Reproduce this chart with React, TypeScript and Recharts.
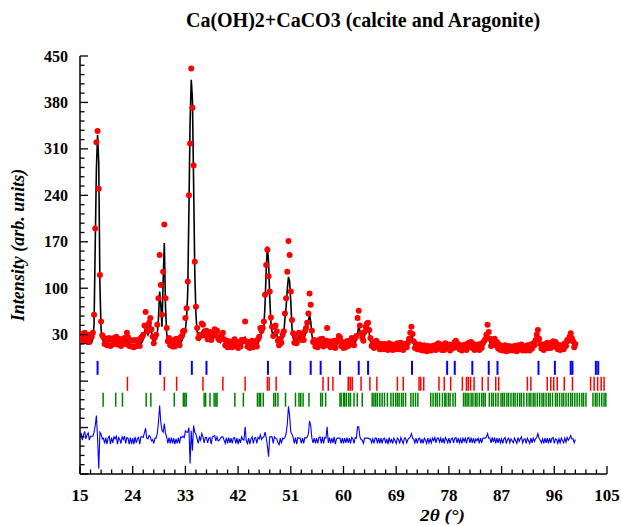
import React from 'react';
import { ComposedChart, Line, Scatter, XAxis, YAxis } from 'recharts';

const W = 621;
const H = 525;
const FONT = "'Liberation Serif', 'Times New Roman', serif";

const TITLE = 'Ca(OH)2+CaCO3 (calcite and Aragonite)';
const X_LABEL = '2θ (°)';
const Y_LABEL = 'Intensity (arb. units)';

const X_MAJOR = [15, 24, 33, 42, 51, 60, 69, 78, 87, 96, 105];
const Y_MAJOR = [-180, -110, -40, 30, 100, 170, 240, 310, 380, 450];
const Y_LABELLED = [30, 100, 170, 240, 310, 380, 450];

// profile grid: 2θ from 15.0 in 0.2° steps
const START = 15;
const STEP = 0.2;

const OBS = [
  24, 31, 20, 28, 33, 22, 27, 30, 19, 26,
  27, 33, 60, 190, 320, 337, 250, 120, 50, 29,
  26, 16, 24, 14, 22, 25, 13, 23, 15, 25,
  22, 27, 15, 24, 20, 13, 23, 19, 25, 16,
  33, 26, 13, 22, 12, 21, 11, 22, 13, 20,
  22, 13, 25, 27, 30, 44, 64, 40, 35, 48,
  55, 38, 27, 17, 26, 30, 45, 85, 150, 105,
  60, 125, 196, 85, 40, 20, 25, 14, 22, 12,
  20, 12, 24, 16, 23, 14, 26, 28, 35, 36,
  55, 70, 110, 240, 318, 431, 372, 285, 140, 72,
  40, 25, 30, 28, 47, 45, 29, 35, 36, 23,
  28, 34, 22, 30, 33, 38, 29, 36, 24, 22,
  24, 30, 33, 23, 14, 21, 11, 20, 12, 19,
  11, 20, 23, 13, 19, 10, 18, 12, 22, 20,
  22, 50, 20, 12, 19, 10, 18, 21, 11, 19,
  20, 12, 23, 27, 40, 36, 40, 50, 90, 135,
  158, 118, 95, 56, 42, 28, 42, 44, 35, 21,
  14, 24, 18, 30, 35, 62, 85, 125, 171, 150,
  95, 52, 32, 18, 26, 17, 30, 33, 31, 22,
  30, 22, 35, 40, 48, 62, 92, 75, 36, 19,
  22, 12, 19, 11, 21, 23, 15, 24, 12, 20,
  21, 40, 14, 20, 11, 19, 12, 21, 10, 19,
  22, 28, 26, 13, 19, 10, 18, 11, 20, 13,
  21, 15, 25, 22, 14, 25, 28, 55, 66, 44,
  32, 25, 21, 34, 42, 47, 48, 37, 25, 13,
  17, 10, 19, 21, 12, 17, 8, 16, 8, 15,
  16, 8, 15, 7, 17, 10, 14, 7, 15, 11,
  8, 17, 14, 8, 18, 12, 7, 15, 16, 11,
  18, 24, 33, 42, 31, 20, 10, 16, 8, 14,
  15, 7, 13, 6, 14, 10, 5, 13, 6, 12,
  6, 13, 9, 14, 7, 15, 17, 11, 15, 7,
  14, 7, 17, 15, 9, 15, 6, 13, 15, 10,
  19, 21, 11, 16, 8, 13, 6, 14, 9, 15,
  7, 16, 18, 11, 19, 10, 16, 7, 14, 11,
  15, 7, 16, 10, 18, 20, 23, 30, 45, 34,
  24, 13, 22, 16, 24, 14, 19, 9, 15, 7,
  13, 6, 12, 14, 5, 11, 13, 6, 12, 9,
  6, 13, 9, 5, 14, 8, 12, 15, 6, 11,
  12, 6, 14, 10, 6, 15, 9, 17, 14, 22,
  30, 37, 24, 16, 9, 14, 7, 16, 10, 18,
  10, 17, 10, 18, 20, 12, 19, 16, 8, 14,
  7, 14, 10, 8, 17, 13, 22, 21, 27, 32,
  25, 20, 11, 16,
];

const CALC = [
  17, 17, 17, 17, 17, 17, 16, 16, 16, 17,
  18, 24, 45, 165, 280, 331, 290, 105, 38, 24,
  20, 18, 17, 17, 16, 16, 16, 16, 16, 17,
  17, 18, 18, 17, 16, 15, 15, 15, 16, 18,
  26, 20, 16, 15, 15, 15, 14, 14, 14, 15,
  15, 16, 17, 19, 23, 30, 43, 34, 30, 38,
  47, 36, 23, 19, 20, 24, 32, 55, 95, 75,
  42, 110, 168, 72, 32, 22, 18, 16, 15, 14,
  14, 15, 19, 18, 16, 16, 18, 21, 26, 29,
  38, 55, 95, 218, 350, 414, 385, 260, 125, 60,
  35, 27, 22, 25, 34, 37, 30, 28, 29, 24,
  22, 27, 25, 22, 24, 28, 27, 28, 22, 19,
  18, 22, 25, 20, 16, 14, 13, 13, 13, 13,
  13, 14, 16, 15, 13, 13, 13, 13, 14, 16,
  19, 27, 18, 14, 13, 13, 13, 13, 13, 13,
  13, 14, 16, 22, 29, 32, 33, 42, 75, 128,
  163, 140, 87, 48, 34, 30, 34, 38, 30, 22,
  18, 18, 20, 24, 30, 55, 72, 98, 117, 110,
  80, 40, 25, 20, 19, 20, 23, 27, 25, 24,
  24, 24, 28, 34, 40, 50, 60, 50, 30, 20,
  16, 14, 13, 13, 14, 15, 17, 16, 14, 13,
  15, 17, 15, 13, 13, 13, 13, 13, 13, 14,
  16, 22, 20, 15, 13, 12, 12, 12, 13, 14,
  15, 17, 18, 17, 16, 18, 22, 32, 43, 36,
  28, 22, 23, 28, 36, 41, 42, 32, 20, 14,
  12, 12, 13, 15, 14, 11, 10, 10, 10, 10,
  10, 10, 10, 10, 10, 10, 10, 9, 9, 9,
  10, 11, 10, 10, 11, 10, 9, 9, 10, 12,
  14, 18, 25, 29, 25, 16, 11, 10, 10, 9,
  9, 9, 8, 8, 8, 7, 7, 7, 7, 7,
  7, 7, 7, 7, 8, 9, 11, 11, 9, 8,
  8, 9, 10, 11, 10, 9, 8, 8, 9, 11,
  13, 14, 12, 10, 9, 8, 8, 8, 8, 9,
  9, 10, 11, 12, 12, 11, 10, 9, 9, 9,
  9, 9, 10, 11, 12, 14, 17, 22, 32, 28,
  18, 14, 15, 16, 17, 16, 13, 10, 9, 8,
  8, 8, 7, 7, 7, 7, 7, 7, 7, 7,
  7, 7, 7, 7, 7, 7, 7, 7, 7, 7,
  7, 8, 8, 8, 8, 9, 10, 11, 13, 17,
  23, 24, 18, 13, 10, 9, 9, 10, 11, 12,
  12, 11, 11, 12, 13, 14, 14, 12, 10, 9,
  8, 8, 8, 9, 11, 13, 15, 18, 21, 22,
  20, 15, 12, 12,
];

const DIFF_OFFSET = -132;

// Bragg reflection positions (2θ)
const PORTLANDITE = [18.0, 28.7, 34.1, 36.6, 47.1, 50.9, 54.4, 56.1, 59.4, 62.6, 64.2, 71.7,
  77.7, 79.0, 82.0, 84.8, 86.3, 93.3, 96.1, 98.8, 99.1, 103.1, 103.5];
const CALCITE = [23.1, 29.4, 31.5, 36.0, 39.4, 43.2, 47.0, 47.3, 48.5, 56.5, 57.4, 58.2,
  60.8, 60.9, 61.2, 61.5, 63.0, 64.5, 65.7, 69.2, 70.2, 72.9, 73.2, 73.7, 76.3, 77.2, 78.3,
  80.3, 81.0, 81.3, 81.7, 82.3, 83.7, 84.7, 86.0, 86.5, 91.4, 92.0, 94.8, 95.4, 95.9, 96.5,
  97.7, 99.1, 102.2, 102.8, 103.4, 104.0, 104.5];
const ARAGONITE = [18.95, 21.1, 22.25, 26.3, 27.1, 31.1, 32.65, 32.9, 33.15, 36.2, 36.45,
  37.2, 37.9, 38.2, 38.4, 41.45, 42.9, 45.3, 45.6, 45.85, 46.3, 48.1, 48.4, 48.8, 50.1,
  51.8, 52.4, 52.7, 53.1, 54.1, 56.1, 56.4, 56.95, 59.4, 59.6, 60.0, 60.2, 60.5, 60.9,
  61.2, 61.8, 62.35, 63.2, 64.9, 65.2, 65.5, 65.8, 66.2, 66.6, 67.0, 67.5, 68.1, 68.5,
  68.9, 69.2, 69.5, 69.9, 70.2, 70.6, 71.5, 71.9, 72.3, 72.7, 74.9, 75.3, 75.7, 76.0,
  76.4, 76.9, 77.3, 77.5, 77.9, 78.2, 78.7, 79.1, 80.5, 80.8, 81.1, 81.4, 81.8, 82.1,
  82.5, 82.8, 83.2, 83.6, 83.9, 84.2, 84.9, 85.3, 85.6, 86.0, 86.4, 86.9, 87.2, 87.5,
  87.9, 88.2, 88.6, 89.0, 89.3, 89.7, 90.1, 90.4, 90.8, 91.3, 91.7, 92.0, 92.4, 92.7,
  93.1, 93.5, 93.9, 94.2, 94.6, 95.0, 95.3, 95.7, 96.2, 96.5, 96.9, 97.3, 97.6, 98.0,
  98.4, 98.8, 99.1, 99.5, 99.9, 100.3, 100.7, 101.0, 101.4, 102.6, 103.0, 103.3, 103.7,
  104.1, 104.5, 104.8];

const ROW_PORTLANDITE = -20;
const ROW_CALCITE = -44;
const ROW_ARAGONITE = -68;

const profile = OBS.map((o, i) => ({
  x: Math.round((START + i * STEP) * 10) / 10,
  obs: o,
  calc: CALC[i],
  diff: o - CALC[i] + DIFF_OFFSET,
}));
const braggP = PORTLANDITE.map((x) => ({ x, y: ROW_PORTLANDITE }));
const braggC = CALCITE.map((x) => ({ x, y: ROW_CALCITE }));
const braggA = ARAGONITE.map((x) => ({ x, y: ROW_ARAGONITE }));

const withMinor = (majors: number[]) => {
  const out: number[] = [];
  for (let i = 0; i < majors.length - 1; i++) {
    for (let j = 0; j < 5; j++) {
      out.push(Math.round((majors[i] + ((majors[i + 1] - majors[i]) * j) / 5) * 1000) / 1000);
    }
  }
  out.push(majors[majors.length - 1]);
  return out;
};
const X_TICKS = withMinor(X_MAJOR);
const Y_TICKS = withMinor(Y_MAJOR);
const isIn = (v: number, arr: number[]) => arr.some((m) => Math.abs(m - v) < 1e-6);

const MAJOR_LEN = 8;
const MINOR_LEN = 4.5;
const tickStyle = { stroke: '#000', strokeWidth: 1.3 };

const BottomTick = (p: any) => {
  const v = p.payload.value;
  const major = isIn(v, X_MAJOR);
  return (
    <g>
      <line x1={p.x} x2={p.x} y1={p.y} y2={p.y - (major ? MAJOR_LEN : MINOR_LEN)} {...tickStyle} />
      {major && (
        <text
          x={p.x}
          y={p.y + 27}
          textAnchor="middle"
          fill="#000"
          style={{ fontFamily: FONT, fontWeight: 'bold', fontSize: 17 }}
        >
          {v}
        </text>
      )}
    </g>
  );
};
const TopTick = (p: any) => {
  const major = isIn(p.payload.value, X_MAJOR);
  return <line x1={p.x} x2={p.x} y1={p.y} y2={p.y + (major ? MAJOR_LEN : MINOR_LEN)} {...tickStyle} />;
};
const LeftTick = (p: any) => {
  const v = p.payload.value;
  const major = isIn(v, Y_MAJOR);
  return (
    <g>
      <line x1={p.x} x2={p.x + (major ? MAJOR_LEN : MINOR_LEN)} y1={p.y} y2={p.y} {...tickStyle} />
      {isIn(v, Y_LABELLED) && (
        <text
          x={p.x - 12}
          y={p.y}
          dy="0.35em"
          textAnchor="end"
          fill="#000"
          style={{ fontFamily: FONT, fontWeight: 'bold', fontSize: 16 }}
        >
          {v}
        </text>
      )}
    </g>
  );
};
const RightTick = (p: any) => {
  const major = isIn(p.payload.value, Y_MAJOR);
  return <line x1={p.x} x2={p.x - (major ? MAJOR_LEN : MINOR_LEN)} y1={p.y} y2={p.y} {...tickStyle} />;
};

const YLabel = (props: any) => {
  const vb = props.viewBox || { x: 0, y: 56, width: 80, height: 418 };
  const cx = vb.x + 24;
  const cy = vb.y + vb.height / 2 - 20;
  return (
    <text
      x={cx}
      y={cy}
      transform={`rotate(-90 ${cx} ${cy})`}
      textAnchor="middle"
      style={{ fontFamily: FONT, fontWeight: 'bold', fontStyle: 'italic', fontSize: 18 }}
      fill="#000"
    >
      {Y_LABEL}
    </text>
  );
};
const XLabel = (props: any) => {
  const vb = props.viewBox || { x: 80, y: 474, width: 527, height: 51 };
  return (
    <text
      x={vb.x + vb.width / 2 + 99}
      y={vb.y + 46.5}
      textAnchor="middle"
      textLength={45}
      lengthAdjust="spacingAndGlyphs"
      style={{ fontFamily: FONT, fontWeight: 'bold', fontStyle: 'italic', fontSize: 17 }}
      fill="#000"
    >
      {X_LABEL}
    </text>
  );
};

const ObsDot = (p: any) => <circle cx={p.cx} cy={p.cy} r={3} fill="#ff0000" />;
const braggShape = (color: string, w: number) => (p: any) => (
  <line x1={p.cx} x2={p.cx} y1={p.cy - 7} y2={p.cy + 7} stroke={color} strokeWidth={w} />
);

const axisLine = { stroke: '#000', strokeWidth: 1.5 };

export default function App() {
  return (
    <div style={{ position: 'absolute', left: 0, top: 0, width: W, height: H, background: '#fff' }}>
      <ComposedChart width={W} height={H} margin={{ top: 56, right: 14, bottom: 0, left: 0 }}>
        <XAxis
          xAxisId="b"
          dataKey="x"
          type="number"
          domain={[15, 105]}
          allowDataOverflow
          ticks={X_TICKS}
          interval={0}
          orientation="bottom"
          height={51}
          tickSize={0}
          tickMargin={0}
          tickLine={false}
          tick={BottomTick}
          axisLine={axisLine}
          label={XLabel}
        />
        <XAxis
          xAxisId="t"
          dataKey="x"
          type="number"
          domain={[15, 105]}
          allowDataOverflow
          ticks={X_TICKS}
          interval={0}
          orientation="top"
          height={0}
          tickSize={0}
          tickMargin={0}
          tickLine={false}
          tick={TopTick}
          axisLine={axisLine}
        />
        <YAxis
          yAxisId="l"
          type="number"
          domain={[-180, 450]}
          allowDataOverflow
          ticks={Y_TICKS}
          interval={0}
          orientation="left"
          width={80}
          tickSize={0}
          tickMargin={0}
          tickLine={false}
          tick={LeftTick}
          axisLine={axisLine}
          label={YLabel}
        />
        <YAxis
          yAxisId="r"
          type="number"
          domain={[-180, 450]}
          allowDataOverflow
          ticks={Y_TICKS}
          interval={0}
          orientation="right"
          width={0}
          tickSize={0}
          tickMargin={0}
          tickLine={false}
          tick={RightTick}
          axisLine={axisLine}
        />
        <Scatter xAxisId="b" yAxisId="l" data={profile} dataKey="obs" shape={ObsDot} isAnimationActive={false} />
        <Line
          xAxisId="b"
          yAxisId="l"
          data={profile}
          dataKey="calc"
          type="linear"
          stroke="#000000"
          strokeWidth={1.6}
          dot={false}
          activeDot={false}
          isAnimationActive={false}
        />
        <Line
          xAxisId="b"
          yAxisId="l"
          data={profile}
          dataKey="diff"
          type="linear"
          stroke="#0000ff"
          strokeWidth={1.1}
          dot={false}
          activeDot={false}
          isAnimationActive={false}
        />
        <Scatter xAxisId="b" yAxisId="l" data={braggP} dataKey="y" shape={braggShape('#0000ff', 2)} isAnimationActive={false} />
        <Scatter xAxisId="b" yAxisId="l" data={braggC} dataKey="y" shape={braggShape('#ff0000', 1.5)} isAnimationActive={false} />
        <Scatter xAxisId="b" yAxisId="l" data={braggA} dataKey="y" shape={braggShape('#008000', 1.5)} isAnimationActive={false} />
      </ComposedChart>
      <svg
        width={W}
        height={50}
        style={{ position: 'absolute', left: 0, top: 0, pointerEvents: 'none' }}
      >
        <text
          x={363}
          y={27}
          textAnchor="middle"
          style={{ fontFamily: FONT, fontWeight: 'bold', fontSize: 20 }}
          fill="#000"
        >
          {TITLE}
        </text>
      </svg>
    </div>
  );
}
